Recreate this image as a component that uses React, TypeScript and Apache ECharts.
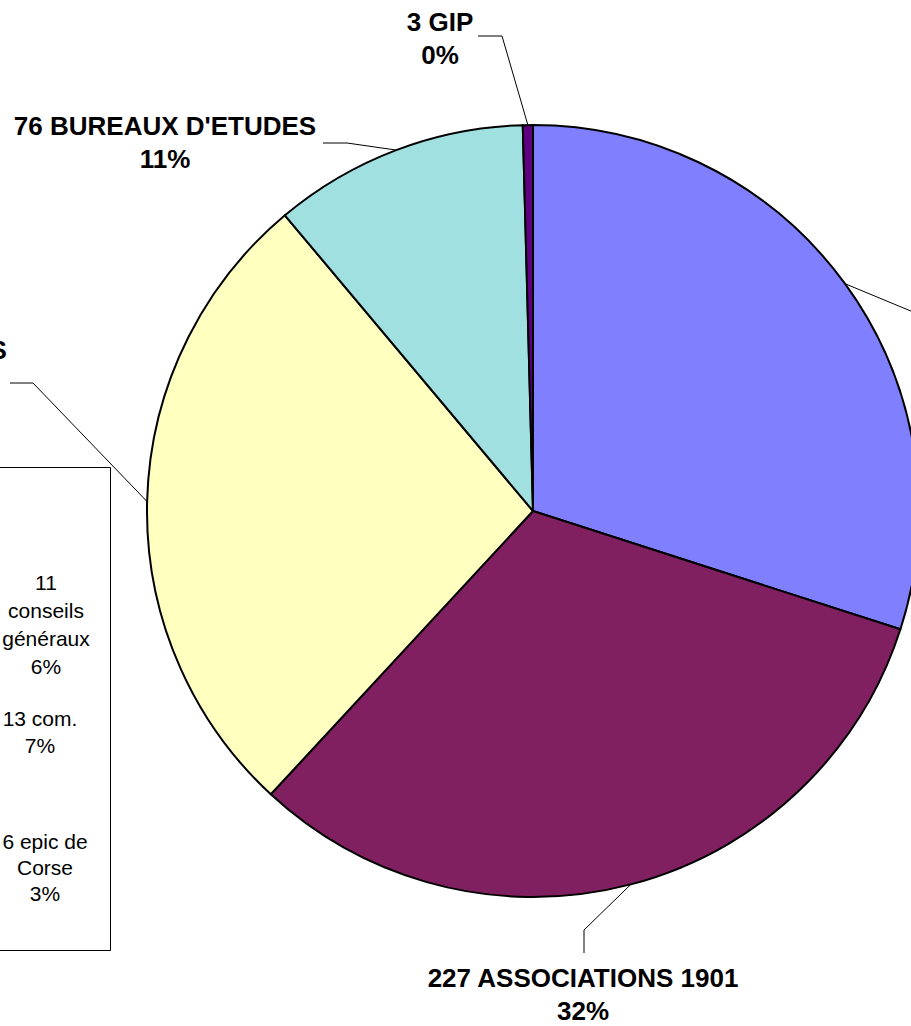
import React, { useEffect, useRef } from "react";
import * as echarts from "echarts";

// ---- data ----
const categories = [
  "ENTREPRISES",
  "ASSOCIATIONS 1901",
  "COLLECTIVITES\nTERRITORIALES",
  "BUREAUX D'ETUDES",
  "GIP",
];
const counts = [213, 227, 192, 76, 3];
const colors = ["#8080FF", "#802060", "#FFFFC0", "#A0E0E0", "#600080"];

// breakdown box (left), texts as shown in the picture
const boxTexts = ["11\nconseils\ngénéraux", "13 com.", "6 epic de\nCorse"];
const boxPercents = [6, 7, 3];

// ---- layout ----
const W = 911;
const H = 1026;
const CX = 533;
const CY = 511;
const R = 386;
const FONT = '"Liberation Sans", Arial, Helvetica, sans-serif';

// label placement: centre of label block, knee point and end point of leader line
const labelSpecs = [
  { x: 1075, y: 330, knee: [930, 319], end: [958, 319] },
  { x: 583, y: 994, knee: [584, 930], end: [584, 953] },
  { x: -121, y: 383, knee: [33, 383], end: [10, 383] },
  { x: 165, y: 142, knee: [347, 143], end: [323, 143] },
  { x: 440, y: 38, knee: [502, 36], end: [478, 36] },
];

const boxSpecs = [
  { x: 46, y: 624, lh: 28 },
  { x: 40, y: 732, lh: 27 },
  { x: 45, y: 867, lh: 26 },
];

function midPoint(i: number): number[] {
  const total = counts.reduce((a, b) => a + b, 0);
  let before = 0;
  for (let k = 0; k < i; k++) before += counts[k];
  const theta = ((before + counts[i] / 2) / total) * Math.PI * 2;
  return [CX + R * Math.sin(theta), CY - R * Math.cos(theta)];
}

export default function App() {
  const ref = useRef<HTMLDivElement>(null);

  useEffect(() => {
    if (!ref.current) return;
    const chart = echarts.init(ref.current, null, { renderer: "svg" });

    const data = categories.map((name, i) => ({
      name,
      value: counts[i],
      itemStyle: { color: colors[i] },
    }));

    const boxElements: any[] = [
      {
        type: "rect",
        silent: true,
        shape: { x: -49.5, y: 467.5, width: 160, height: 483 },
        style: { fill: "#ffffff", stroke: "#000000", lineWidth: 1 },
        z: 1,
      },
    ];
    boxTexts.forEach((t, i) => {
      boxElements.push({
        type: "text",
        silent: true,
        x: boxSpecs[i].x,
        y: boxSpecs[i].y,
        z: 2,
        style: {
          text: `${t}\n${boxPercents[i]}%`,
          fill: "#000000",
          fontFamily: FONT,
          fontSize: 21,
          fontWeight: "normal",
          lineHeight: boxSpecs[i].lh,
          align: "center",
          verticalAlign: "middle",
          textAlign: "center",
          textVerticalAlign: "middle",
        },
      });
    });

    chart.setOption({
      animation: false,
      backgroundColor: "#ffffff",
      graphic: { elements: boxElements },
      series: [
        {
          type: "pie",
          center: [CX, CY],
          radius: R,
          startAngle: 90,
          clockwise: true,
          percentPrecision: 0,
          avoidLabelOverlap: false,
          silent: true,
          z: 3,
          itemStyle: { borderColor: "#000000", borderWidth: 2 },
          label: {
            show: true,
            position: "outside",
            formatter: (p: any) => `${p.value} ${p.name}\n${p.percent}%`,
            color: "#000000",
            fontFamily: FONT,
            fontSize: 26,
            fontWeight: "bold",
            lineHeight: 33,
            align: "center",
          },
          labelLine: {
            show: true,
            length: 20,
            length2: 20,
            lineStyle: { color: "#000000", width: 1 },
          },
          labelLayout: (params: any) => {
            const i = params.dataIndex;
            const s = labelSpecs[i];
            return {
              x: s.x,
              y: s.y,
              align: "center",
              verticalAlign: "middle",
              labelLinePoints: [midPoint(i), s.knee, s.end],
            };
          },
          data,
        },
      ],
    });

    return () => chart.dispose();
  }, []);

  return (
    <div
      ref={ref}
      style={{ position: "absolute", left: 0, top: 0, width: W, height: H }}
    />
  );
}
